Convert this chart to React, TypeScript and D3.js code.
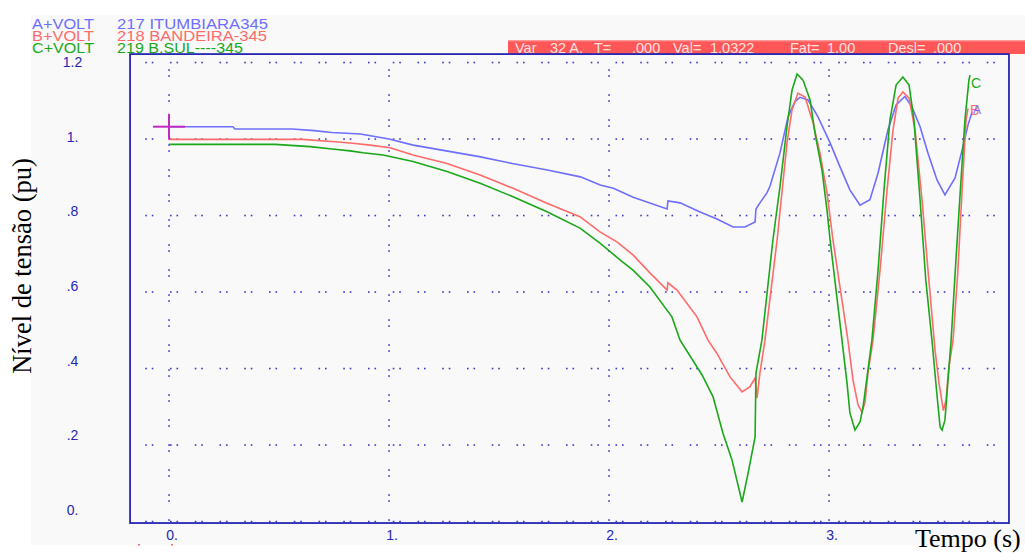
import React from 'react';
import * as d3 from 'd3';

// ---- data ----
const yTicks = [0, 0.2, 0.4, 0.6, 0.8, 1.0, 1.2];
const yTickLabels = ['0.', '.2', '.4', '.6', '.8', '1.', '1.2'];
const xTicks = [0, 1, 2, 3];
const xTickLabels = ['0.', '1.', '2.', '3.'];

const legendNames = ['A+VOLT', 'B+VOLT', 'C+VOLT'];
const legendDesc = ['217 ITUMBIARA345', '218 BANDEIRA-345', '219 B.SUL----345'];
const endLabels = ['A', 'B', 'C'];

const statusParts = ['Var', '32 A,', 'T=', '.000', 'Val=', '1.0322', 'Fat=', '1.00', 'Desl=', '.000'];
const statusX = [515, 550, 594, 632, 673, 710, 790, 827, 888, 933];

const cursorT = 0;
const cursorV = 1.0322;

// A: 217 ITUMBIARA345 (blue)
const seriesA: [number, number][] = [
  [0, 1.032], [0.29, 1.032], [0.30, 1.026], [0.56, 1.026], [0.66, 1.022], [0.74, 1.017],
  [0.87, 1.013], [1.0, 1.0], [1.11, 0.984], [1.26, 0.969], [1.41, 0.954], [1.56, 0.936],
  [1.72, 0.919], [1.87, 0.901], [1.96, 0.880], [2.02, 0.871], [2.11, 0.848], [2.264, 0.817],
  [2.268, 0.838], [2.323, 0.833], [2.414, 0.809], [2.491, 0.791], [2.564, 0.770], [2.618, 0.770],
  [2.664, 0.783], [2.668, 0.817], [2.686, 0.833], [2.718, 0.859], [2.732, 0.877], [2.777, 0.963],
  [2.814, 1.058], [2.845, 1.098], [2.868, 1.109], [2.905, 1.102], [2.95, 1.058], [3.005, 0.990],
  [3.05, 0.927], [3.095, 0.867], [3.141, 0.827], [3.186, 0.841], [3.223, 0.911], [3.268, 1.024],
  [3.305, 1.089], [3.345, 1.111], [3.377, 1.084], [3.414, 1.032], [3.45, 0.963], [3.491, 0.893],
  [3.527, 0.854], [3.573, 0.898], [3.605, 0.971], [3.632, 1.037], [3.65, 1.07],
];

// B: 218 BANDEIRA-345 (red)
const seriesB: [number, number][] = [
  [0, 0.999], [0.605, 0.999], [0.755, 0.993], [0.836, 0.989], [0.914, 0.984], [1.005, 0.977],
  [1.109, 0.958], [1.264, 0.936], [1.414, 0.906], [1.564, 0.871], [1.718, 0.832], [1.868, 0.797],
  [1.959, 0.757], [2.036, 0.731], [2.109, 0.697], [2.186, 0.650], [2.264, 0.605], [2.268, 0.624],
  [2.309, 0.605], [2.4, 0.535], [2.45, 0.474], [2.49, 0.44], [2.55, 0.378], [2.605, 0.339],
  [2.64, 0.352], [2.664, 0.375], [2.673, 0.323], [2.686, 0.388], [2.709, 0.474], [2.764, 0.736],
  [2.786, 0.859], [2.809, 0.990], [2.832, 1.076], [2.859, 1.120], [2.891, 1.110], [2.927, 1.044],
  [2.959, 0.963], [2.991, 0.859], [3.018, 0.736], [3.086, 0.474], [3.109, 0.37], [3.132, 0.305],
  [3.15, 0.286], [3.164, 0.312], [3.177, 0.388], [3.2, 0.474], [3.232, 0.657], [3.264, 0.867],
  [3.291, 1.024], [3.314, 1.107], [3.336, 1.123], [3.364, 1.107], [3.391, 1.024], [3.423, 0.84],
  [3.45, 0.657], [3.482, 0.448], [3.5, 0.362], [3.52, 0.29], [3.532, 0.318], [3.545, 0.405],
  [3.564, 0.474], [3.586, 0.657], [3.605, 0.867], [3.623, 1.05], [3.632, 1.08],
];

// C: 219 B.SUL----345 (green)
const seriesC: [number, number][] = [
  [0, 0.986], [0.482, 0.986], [0.641, 0.980], [0.741, 0.974], [0.823, 0.969], [0.882, 0.964],
  [0.973, 0.958], [1.109, 0.941], [1.264, 0.915], [1.414, 0.884], [1.564, 0.849], [1.718, 0.810],
  [1.868, 0.767], [1.959, 0.728], [2.05, 0.684], [2.109, 0.657], [2.186, 0.613], [2.286, 0.535],
  [2.323, 0.474], [2.423, 0.383], [2.473, 0.326], [2.518, 0.231], [2.559, 0.161], [2.605, 0.051],
  [2.632, 0.126], [2.664, 0.221], [2.668, 0.388], [2.695, 0.474], [2.745, 0.736], [2.777, 0.875],
  [2.809, 1.032], [2.832, 1.128], [2.855, 1.170], [2.882, 1.154], [2.914, 1.102], [2.936, 1.016],
  [2.968, 0.919], [2.991, 0.814], [3.005, 0.736], [3.059, 0.474], [3.082, 0.362], [3.095, 0.284],
  [3.118, 0.239], [3.141, 0.26], [3.155, 0.3], [3.177, 0.396], [3.195, 0.474], [3.223, 0.657],
  [3.25, 0.867], [3.277, 1.05], [3.305, 1.141], [3.336, 1.162], [3.364, 1.141], [3.386, 1.05],
  [3.414, 0.84], [3.44, 0.631], [3.468, 0.474], [3.49, 0.336], [3.505, 0.247], [3.514, 0.239],
  [3.527, 0.265], [3.541, 0.37], [3.555, 0.474], [3.577, 0.684], [3.6, 0.893], [3.618, 1.05],
  [3.636, 1.154], [3.641, 1.167],
];

// ---- layout / style ----
const W = 1025;
const H = 553;
const colors = ['#6e6eff', '#ff6a6a', '#1aa81a'];
const axisColor = '#2626b4';
const dotColor = '#3a3ac8';
const uiFont = 'Arial, "Liberation Sans", Helvetica, sans-serif';
const serif = '"Times New Roman", "Liberation Serif", serif';

const x = d3.scaleLinear().domain([0, 3]).range([169, 829]);
const y = d3.scaleLinear().domain([0, 1.2]).range([521.5, 62.5]);
const yLabelScale = d3.scaleLinear().domain([0, 1.2]).range([515, 67]);

const frame = { t0: -0.177, t1: 3.818, v0: -0.004, v1: 1.222 };

export default function App() {
  const line = d3
    .line<[number, number]>()
    .x((d) => x(d[0]))
    .y((d) => y(d[1]))
    .curve(d3.curveLinear);

  const fx0 = x(frame.t0);
  const fx1 = x(frame.t1);
  const fy0 = y(frame.v0);
  const fy1 = y(frame.v1);

  // dotted grid: horizontal rows at major y values (pairs of dots)
  const hDots: { cx: number; cy: number }[] = [];
  const hStepPx = 24.75;
  for (const v of yTicks) {
    for (let px = 146; px < fx1 - 8; px += hStepPx) {
      hDots.push({ cx: px, cy: y(v) });
      hDots.push({ cx: px + 6.5, cy: y(v) });
    }
  }
  const vDots: { cx: number; cy: number }[] = [];
  for (const t of xTicks) {
    for (let py = 70; py <= 521; py += 25) {
      vDots.push({ cx: x(t), cy: py });
      if (py + 6 < 522) vDots.push({ cx: x(t), cy: py + 6 });
    }
  }

  const series = [seriesA, seriesB, seriesC];
  const cx = x(cursorT);
  const cy = y(cursorV);

  return (
    <svg
      width={W}
      height={H}
      viewBox={`0 0 ${W} ${H}`}
      style={{ position: 'absolute', left: 0, top: 0, background: '#ffffff' }}
    >
      <rect x={31} y={15} width={W - 31} height={530} fill="#f9f9f9" />

      {/* legend */}
      {legendNames.map((n, i) => (
        <g key={n} fill={colors[i]} fontFamily={uiFont} fontSize={14}>
          <text x={32} y={28.5 + i * 12.2} textLength={62} lengthAdjust="spacingAndGlyphs">
            {n}
          </text>
          <text
            x={117}
            y={28.5 + i * 12.2}
            textLength={[151, 150, 126][i]}
            lengthAdjust="spacingAndGlyphs"
          >
            {legendDesc[i]}
          </text>
        </g>
      ))}

      {/* status bar */}
      <rect x={508} y={40.5} width={W - 508} height={13.5} fill="#ff5757" />
      <line x1={508} x2={W} y1={41} y2={41} stroke="#ff8a8a" strokeWidth={1} />
      {statusParts.map((s, i) => (
        <text
          key={i}
          x={statusX[i]}
          y={52.8}
          fill="#ffe2e2"
          fontFamily={uiFont}
          fontSize={14.5}
        >
          {s}
        </text>
      ))}

      {/* grid dots */}
      {hDots.map((d, i) => (
        <rect key={'h' + i} x={d.cx - 0.75} y={d.cy - 0.75} width={1.6} height={1.6} fill={dotColor} />
      ))}
      {vDots.map((d, i) => (
        <rect key={'v' + i} x={d.cx - 0.75} y={d.cy - 0.75} width={1.6} height={1.6} fill={dotColor} />
      ))}

      {/* frame */}
      <rect
        x={fx0}
        y={fy1}
        width={fx1 - fx0}
        height={fy0 - fy1}
        fill="none"
        stroke={axisColor}
        strokeWidth={1.8}
      />

      {/* y tick labels */}
      {yTicks.map((v, i) => (
        <text
          key={v}
          x={72.5}
          y={yLabelScale(v)}
          textAnchor="middle"
          fill={axisColor}
          fontFamily={uiFont}
          fontSize={14}
        >
          {yTickLabels[i]}
        </text>
      ))}

      {/* x tick labels */}
      {xTicks.map((t, i) => (
        <text
          key={t}
          x={x(t) + 3}
          y={540}
          textAnchor="middle"
          fill={axisColor}
          fontFamily={uiFont}
          fontSize={14}
        >
          {xTickLabels[i]}
        </text>
      ))}

      {/* series */}
      {series.map((s, i) => (
        <path key={i} d={line(s) || ''} fill="none" stroke={colors[i]} strokeWidth={1.6} />
      ))}

      {/* end labels */}
      <text x={971} y={88} fill={colors[2]} fontFamily={uiFont} fontSize={14}>
        {endLabels[2]}
      </text>
      <text x={970} y={114.5} fill={colors[1]} fontFamily={uiFont} fontSize={14}>
        {endLabels[1]}
      </text>
      <text x={973} y={114} fill={colors[0]} fontFamily={uiFont} fontSize={12}>
        {endLabels[0]}
      </text>

      {/* cursor cross */}
      <line x1={cx - 16} x2={cx + 16} y1={cy} y2={cy} stroke="#c02ac0" strokeWidth={2} />
      <line x1={cx} x2={cx} y1={cy - 13} y2={cy + 13} stroke="#c02ac0" strokeWidth={2} />

      {/* small red marks */}
      <rect x={138} y={544} width={2} height={1.5} fill="#ff6a6a" />
      <rect x={171} y={544} width={2} height={1.5} fill="#ff6a6a" />

      {/* axis titles */}
      <text
        x={915}
        y={547}
        fill="#000"
        fontFamily={serif}
        fontSize={26}
      >
        Tempo (s)
      </text>
      <text
        transform={`translate(31,266) rotate(-90)`}
        textAnchor="middle"
        fill="#000"
        fontFamily={serif}
        fontSize={26.5}
      >
        Nível de tensão (pu)
      </text>
    </svg>
  );
}
